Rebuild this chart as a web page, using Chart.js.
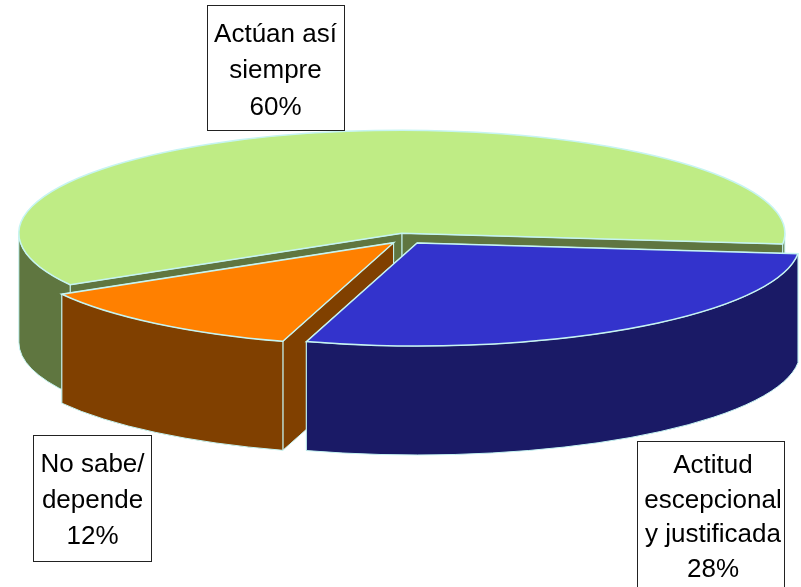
<!DOCTYPE html>
<html>
<head>
<meta charset="utf-8">
<style>
    html, body { margin: 0; padding: 0; background: #fff; }
    canvas { display: block; }
</style>
<script src="https://cdn.jsdelivr.net/npm/chart.js@4/dist/chart.umd.min.js"></script>
</head>
<body>
<canvas id="pie" width="801" height="587"></canvas>
<script>
// Chart data
const categories = ['Actúan así siempre', 'Actitud escepcional y justificada', 'No sabe/ depende'];
const shares = [60, 28, 12];
const labelLines = [['Actúan así', 'siempre'], ['Actitud', 'escepcional', 'y justificada'], ['No sabe/', 'depende']];

// Colours of each slice: top face and side walls
const topColors = ['#BFEC85', '#3333CC', '#FF8000'];
const wallColors = ['#5F7640', '#1A1A66', '#804000'];
const edgeColor = '#C6F4F2';

// Shape of the fake 3D pie
const center = { x: 406, y: 238.5 };
const radiusX = 383;
const radiusY = 103;
const depth = 109;
const explode = 20;

// Walls go back to front: green, orange, blue
const wallOrder = [0, 2, 1];

// Label boxes, same order as the categories
const boxes = [
    { left: 207, top: 5, right: 344, bottom: 130, textX: 275.5, baselines: [42, 78, 115] },
    { left: 637, top: 441, right: 784, bottom: 600, textX: 713, baselines: [473, 508, 542, 577] },
    { left: 33, top: 435, right: 151, bottom: 561, textX: 92.5, baselines: [472, 508, 544] }
];

// Where the top face of a slice ends up on screen once it is pulled out
function sliceCenter(arc) {
    const mid = (arc.startAngle + arc.endAngle) / 2;
    return {
        x: center.x + Math.cos(mid) * explode,
        y: center.y + Math.sin(mid) * explode * radiusY / radiusX
    };
}

function drawFace(ctx, c, angle, color) {
    const px = c.x + Math.cos(angle) * radiusX;
    const py = c.y + Math.sin(angle) * radiusY;
    ctx.beginPath();
    ctx.moveTo(c.x, c.y);
    ctx.lineTo(px, py);
    ctx.lineTo(px, py + depth);
    ctx.lineTo(c.x, c.y + depth);
    ctx.closePath();
    ctx.fillStyle = color;
    ctx.fill();
    ctx.stroke();
}

// Outer wall, only where the rim faces the viewer (angles 0-180 on the canvas)
function drawRim(ctx, c, from, to, color) {
    const fronts = [[0, Math.PI], [2 * Math.PI, 3 * Math.PI], [-2 * Math.PI, -Math.PI]];
    fronts.forEach(range => {
        const a = Math.max(from, range[0]);
        const b = Math.min(to, range[1]);
        if (a >= b) return;
        ctx.beginPath();
        ctx.ellipse(c.x, c.y, radiusX, radiusY, 0, a, b);
        ctx.ellipse(c.x, c.y + depth, radiusX, radiusY, 0, b, a, true);
        ctx.closePath();
        ctx.fillStyle = color;
        ctx.fill();
        ctx.stroke();
    });
}

function drawWalls(ctx, arc, color) {
    const c = sliceCenter(arc);
    ctx.strokeStyle = edgeColor;
    ctx.lineWidth = 1;
    drawFace(ctx, c, arc.endAngle, color);
    drawFace(ctx, c, arc.startAngle, color);
    drawRim(ctx, c, arc.startAngle, arc.endAngle, color);
}

// Top face: the library's own arc, squashed into an ellipse
function drawTop(ctx, arc) {
    const c = sliceCenter(arc);
    ctx.save();
    ctx.translate(c.x, c.y);
    ctx.scale(radiusX / arc.outerRadius, radiusY / arc.outerRadius);
    ctx.translate(-arc.x, -arc.y);
    arc.draw(ctx);
    ctx.restore();

    ctx.beginPath();
    ctx.moveTo(c.x, c.y);
    ctx.ellipse(c.x, c.y, radiusX, radiusY, 0, arc.startAngle, arc.endAngle);
    ctx.closePath();
    ctx.strokeStyle = edgeColor;
    ctx.lineWidth = 1.5;
    ctx.stroke();
}

const pie3d = {
    id: 'pie3d',
    beforeDatasetsDraw(chart) {
        const ctx = chart.ctx;
        const arcs = chart.getDatasetMeta(0).data;
        ctx.save();
        wallOrder.forEach(i => drawWalls(ctx, arcs[i], wallColors[i]));
        arcs.forEach(arc => drawTop(ctx, arc));
        ctx.restore();
        return false;
    },
    afterDraw(chart) {
        const ctx = chart.ctx;
        ctx.save();
        ctx.font = '26px "Liberation Sans", Arial, sans-serif';
        ctx.textAlign = 'center';
        ctx.textBaseline = 'alphabetic';
        boxes.forEach((box, i) => {
            ctx.fillStyle = '#fff';
            ctx.fillRect(box.left, box.top, box.right - box.left, box.bottom - box.top);
            ctx.strokeStyle = '#222';
            ctx.lineWidth = 1;
            ctx.strokeRect(box.left + 0.5, box.top + 0.5, box.right - box.left, box.bottom - box.top);
            ctx.fillStyle = '#000';
            const lines = labelLines[i].concat(shares[i] + '%');
            lines.forEach((line, n) => {
                ctx.fillText(line, box.textX, box.baselines[n]);
            });
        });
        ctx.restore();
    }
};

new Chart(document.getElementById('pie'), {
    type: 'pie',
    data: {
        labels: categories,
        datasets: [{
            data: shares,
            backgroundColor: topColors,
            borderWidth: 0
        }]
    },
    options: {
        responsive: false,
        animation: false,
        rotation: 240,
        layout: { padding: 0 },
        plugins: {
            legend: { display: false },
            tooltip: { enabled: false }
        }
    },
    plugins: [pie3d]
});
</script>
</body>
</html>
